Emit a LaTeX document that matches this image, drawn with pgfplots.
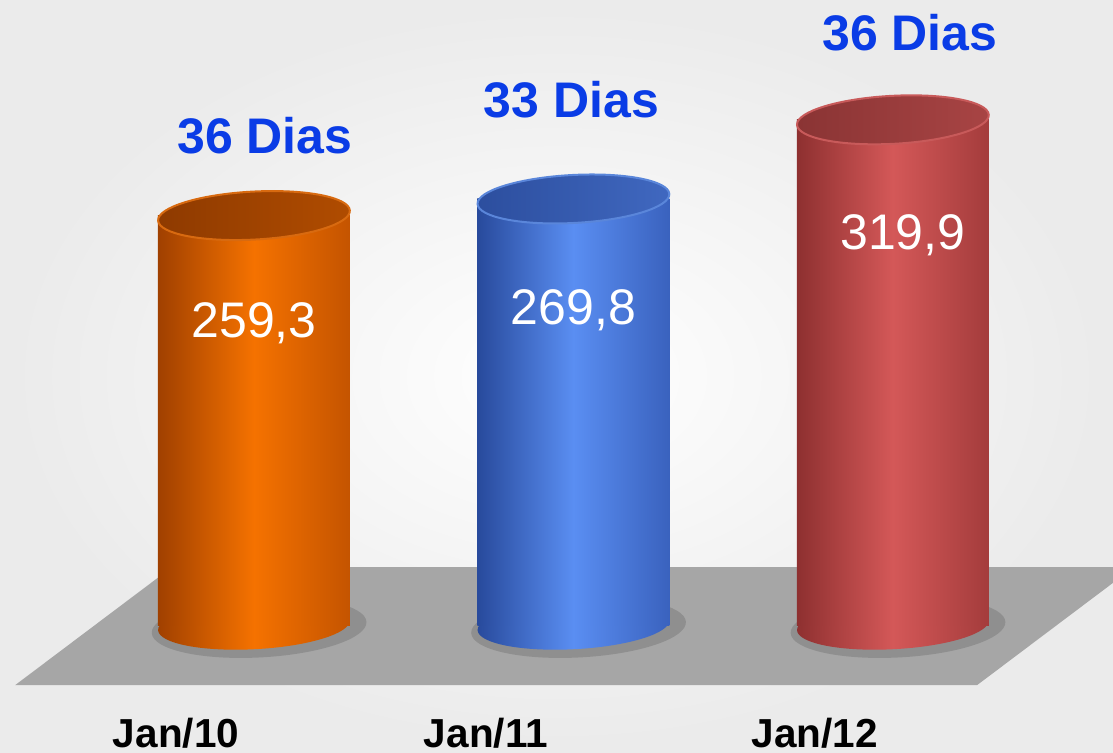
\documentclass[border=0pt]{standalone}
\usepackage{pgfplots}
\pgfplotsset{compat=1.18}
\usepackage{fontspec}
\setmainfont{Liberation Sans}
\usetikzlibrary{shapes.geometric}

\definecolor{floorgray}{HTML}{A6A6A6}
\definecolor{diasblue}{HTML}{0A3CE6}
% orange cylinder
\definecolor{orL}{HTML}{A04000}
\definecolor{orM}{HTML}{F57200}
\definecolor{orR}{HTML}{C45400}
\definecolor{orTL}{HTML}{8E3A00}
\definecolor{orTR}{HTML}{B04C00}
\definecolor{orRim}{HTML}{D86A10}
% blue cylinder
\definecolor{blL}{HTML}{284A9C}
\definecolor{blM}{HTML}{5A8EF2}
\definecolor{blR}{HTML}{3A62BE}
\definecolor{blTL}{HTML}{2C4E9E}
\definecolor{blTR}{HTML}{4068C0}
\definecolor{blRim}{HTML}{5A86DA}
% red cylinder
\definecolor{rdL}{HTML}{8E3030}
\definecolor{rdM}{HTML}{D45858}
\definecolor{rdR}{HTML}{A43C3C}
\definecolor{rdTL}{HTML}{8A3434}
\definecolor{rdTR}{HTML}{A84444}
\definecolor{rdRim}{HTML}{C85A5A}

\pgfplotsset{
  /pgf/number format/assume math mode=true,
  pin/.style={only marks, mark=text, text mark={}, nodes near coords={}},
  shadow/.style={pin, nodes near coords style={anchor=center, ellipse, minimum width=86pt, minimum height=24pt,
      inner sep=0pt, rotate=3, fill=black!55, opacity=0.45, xshift=2pt, yshift=-1pt}},
  base/.style n args={3}{pin, nodes near coords style={anchor=center, ellipse, minimum width=76.8pt,
      minimum height=19.2pt, inner sep=0pt, rotate=3, left color=#1, right color=#3, middle color=#2}},
  body/.style n args={3}{ybar, bar width=76.8pt, bar shift=0pt, draw=none,
      left color=#1, right color=#3, middle color=#2,
      nodes near coords={\pgfmathprintnumber[fixed, precision=1, fixed zerofill, use comma]{\pgfplotspointmeta}},
      nodes near coords style={anchor=center, text=white, font=\fontsize{20}{24}\selectfont}},
  cap/.style n args={3}{pin, nodes near coords style={anchor=center, ellipse, minimum width=76.8pt,
      minimum height=19.2pt, inner sep=0pt, rotate=3, draw=#3, line width=0.8pt, left color=#1, right color=#2}},
  dias/.style={pin, point meta=explicit,
      nodes near coords={\pgfmathprintnumber{\pgfplotspointmeta} Dias},
      nodes near coords style={anchor=center, text=diasblue, font=\fontsize{20}{24}\selectfont\bfseries}},
}

\begin{document}
\begin{tikzpicture}
\begin{axis}[
    width=445.2pt, height=300.8pt, scale only axis,
    clip mode=individual,
    xmin=-0.795, xmax=2.689, ymin=-80.4, ymax=395.6,
    axis line style={draw=none}, major tick length=0pt,
    ytick=\empty,
    xtick={-0.244,0.726,1.756},
    xticklabels={Jan/10,Jan/11,Jan/12},
    xticklabel style={anchor=base, inner sep=0pt, yshift=2pt, font=\fontsize{16.2}{19}\selectfont\bfseries},
    axis background/.style={inner color=white, outer color=black!8},
]
% floor
\addplot[fill=floorgray, draw=none] coordinates {(-0.748,-38.0) (-0.257,36.7) (2.754,36.7) (2.263,-38.0)} -- cycle;
% shadows
\addplot[shadow] coordinates {(0,0) (1,0) (2,0)};
% Jan/10
\addplot[base={orL}{orM}{orR}] coordinates {(0,0)};
\addplot[body={orL}{orM}{orR}, nodes near coords style={yshift=-43pt}] coordinates {(0,259.3)};
\addplot[cap={orTL}{orTR}{orRim}] coordinates {(0,259.3)};
% Jan/11
\addplot[base={blL}{blM}{blR}] coordinates {(1,0)};
\addplot[body={blL}{blM}{blR}, nodes near coords style={yshift=-44.5pt}] coordinates {(1,269.8)};
\addplot[cap={blTL}{blTR}{blRim}] coordinates {(1,269.8)};
% Jan/12
\addplot[base={rdL}{rdM}{rdR}] coordinates {(2,0)};
\addplot[body={rdL}{rdM}{rdR}, nodes near coords style={yshift=-46pt, xshift=4pt}] coordinates {(2,319.9)};
\addplot[cap={rdTL}{rdTR}{rdRim}] coordinates {(2,319.9)};
% day counts
\addplot[dias, nodes near coords style={yshift=32pt, xshift=4.4pt}] coordinates {(0,259.3) [36]};
\addplot[dias, nodes near coords style={yshift=39.6pt, xshift=-0.8pt}] coordinates {(1,269.8) [33]};
\addplot[dias, nodes near coords style={yshift=35pt, xshift=6.8pt}] coordinates {(2,319.9) [36]};
\end{axis}
\end{tikzpicture}
\end{document}
